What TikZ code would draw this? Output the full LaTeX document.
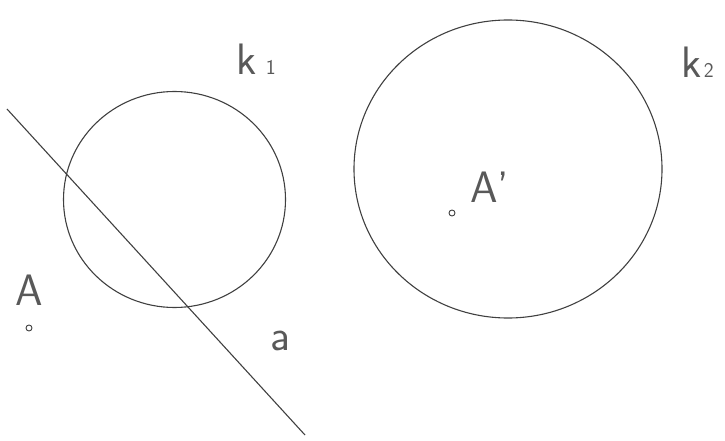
\documentclass[tikz,border=0pt]{standalone}
\usetikzlibrary{positioning}
\tikzset{
  circ/.style={draw=black!75, line width=1.1pt},
  line/.style={draw=black!75, line width=1.1pt},
  pnt/.style={circle, draw=black!75, line width=0.9pt, inner sep=0pt, minimum size=6pt},
  lbl/.style={font=\fontsize{44}{44}\selectfont\sffamily, text=black!65, inner sep=0pt, anchor=base west},
  idx/.style={font=\fontsize{21}{21}\selectfont\sffamily, text=black!65, inner sep=0pt, anchor=base west}
}

\begin{document}
\begin{tikzpicture}[x=1pt,y=-1pt]
  \useasboundingbox (0,0) rectangle (725,441);
  % circles k1 and k2
  \draw[circ] (174.5,199.5) ellipse [x radius=111, y radius=108];
  \draw[circ] (508,169) ellipse [x radius=154, y radius=149];
  % line a
  \coordinate (a1) at (7,109);
  \coordinate (a2) at (305,435);
  \draw[line] (a1) -- (a2);
  % points
  \node[pnt] (A) at (29,328) {};
  \node[pnt] (A') at (452,213) {};
  % labels
  \node[lbl] (lA) at (15,305) {A};
  \node[lbl] (lA') at (470,202) {A'};
  \node[lbl] (la) at (270,350) {a};
  \node[lbl] (k1) at (236,75) {k};
  \node[idx, right=9pt of k1.base east, anchor=base west] (n1) {1};
  \node[lbl] (k2) at (681,78) {k};
  \node[idx, right=2pt of k2.base east, anchor=base west] (n2) {2};
\end{tikzpicture}
\end{document}
